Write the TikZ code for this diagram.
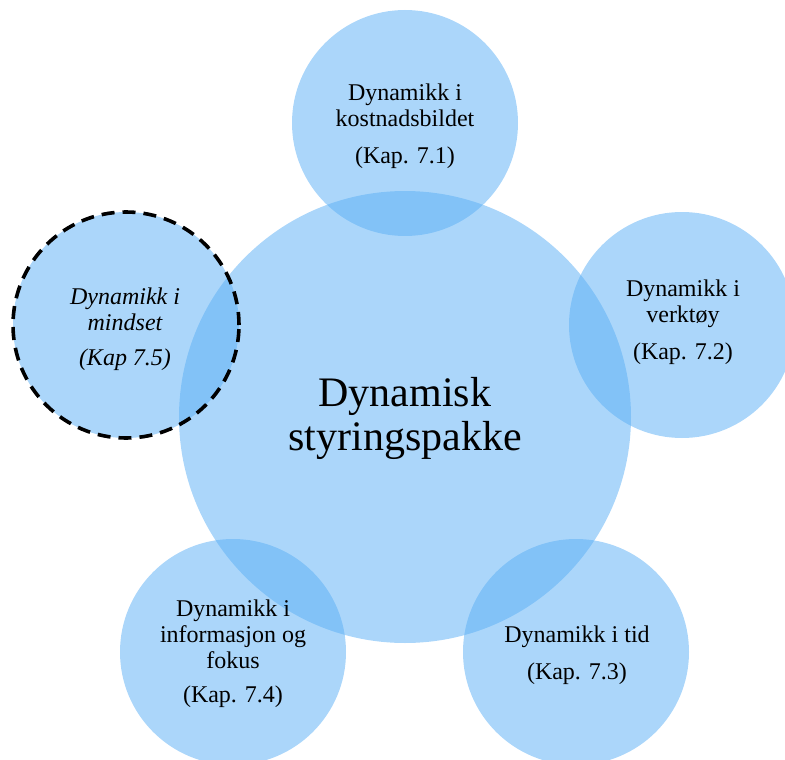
\documentclass[tikz,border=0pt]{standalone}
\usepackage{fontspec}
\setmainfont{Liberation Serif}
\definecolor{bubble}{RGB}{91,175,245}
\begin{document}
\begin{tikzpicture}[x=1pt,y=-1pt,
  bubble/.style={circle, fill=bubble, fill opacity=0.51, draw=none, inner sep=0pt, minimum size=226pt},
  hub/.style={bubble, minimum size=452pt},
  dashring/.style={circle, draw=black, line width=3.6pt, dash pattern=on 13pt off 8pt, inner sep=0pt, minimum size=226pt},
  lbl/.style={align=center, anchor=base, inner sep=0pt, text=black, font=\fontsize{24}{26}\selectfont},
  title/.style={align=center, anchor=base, inner sep=0pt, text=black, font=\fontsize{42}{44}\selectfont}]
  \useasboundingbox (0,0) rectangle (785,760);
  \clip (0,0) rectangle (785,760);
  % circles
  \node[hub] (hub) at (405,417) {};
  \node[bubble] (cost) at (405,123) {};
  \node[bubble] (tool) at (682,325) {};
  \node[bubble] (time) at (576,652) {};
  \node[bubble] (info) at (233,652) {};
  \node[bubble] (mind) at (126,325) {};
  \node[dashring] (mindring) at (126,325) {};
  % labels (placed by the baseline of their last line)
  \node[title] (hubtext) at (405,450) {Dynamisk\\styringspakke};
  \node[lbl] (costtext) at (405,163) {Dynamikk i\\kostnadsbildet\\[11pt](Kap. 7.1)};
  \node[lbl] (tooltext) at (683,359) {Dynamikk i\\verktøy\\[11pt](Kap. 7.2)};
  \node[lbl] (timetext) at (577,679) {Dynamikk i tid\\[11pt](Kap. 7.3)};
  \node[lbl] (infotext) at (233,702) {Dynamikk i\\informasjon og\\fokus\\[8pt](Kap. 7.4)};
  \node[lbl, font=\fontsize{24}{26}\selectfont\itshape] (mindtext) at (125,365) {Dynamikk i\\mindset\\[9pt](Kap 7.5)};
\end{tikzpicture}
\end{document}
